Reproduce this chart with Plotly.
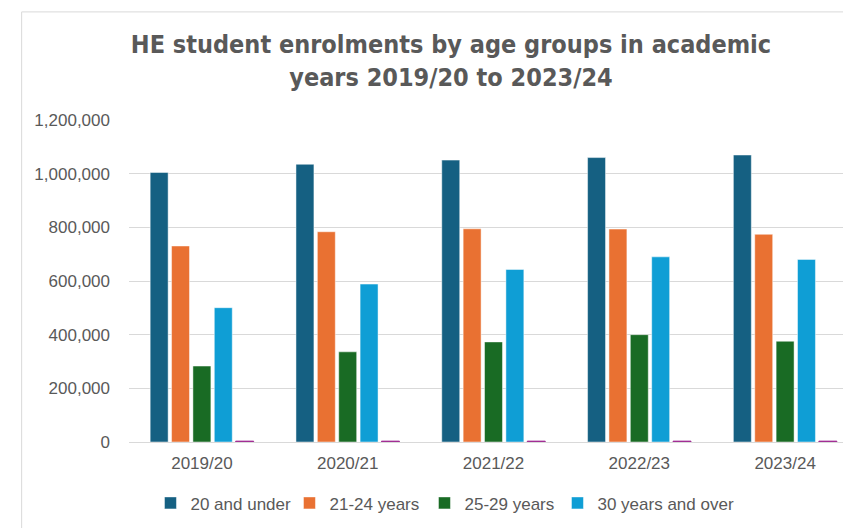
import plotly.graph_objects as go

years = ["2019/20", "2020/21", "2021/22", "2022/23", "2023/24"]
under_20 = [1004500, 1035000, 1050500, 1060000, 1069500]
age_21_24 = [730500, 783500, 794500, 793500, 774000]
age_25_29 = [283000, 336000, 373000, 400000, 375500]
over_30 = [500500, 588500, 643000, 690000, 680500]
unknown = [3500, 3500, 3500, 3500, 3500]

series = [
    ("20 and under", under_20, "#156082", True, 94),
    ("21-24 years", age_21_24, "#E97132", True, 90),
    ("25-29 years", age_25_29, "#196B24", True, 88),
    ("30 years and over", over_30, "#0F9ED5", True, 160),
    ("Age unknown", unknown, "#A02B93", False, None),
]

fig = go.Figure()
for name, vals, color, show, lw in series:
    kw = {}
    if lw:
        kw["legendwidth"] = lw
    outline = "rgba(255,255,255,0.6)" if show else color
    fig.add_trace(go.Bar(
        x=years, y=vals, name=name, showlegend=show,
        marker=dict(color=color, line=dict(color=outline, width=0.8)),
        **kw,
    ))

OFF = 8  # page body margin
W, H = 851, 528
L = 128.5 - OFF
R_EDGE = 858.5 - OFF
T = 120 - OFF
B_EDGE = 441.7 - OFF
plot_w = R_EDGE - L
plot_h = B_EDGE - T

def px_x(x):
    return (x - OFF - L) / plot_w

def px_y(y):
    return (B_EDGE - (y - OFF)) / plot_h

fig.update_layout(
    width=W, height=H,
    margin=dict(l=L, r=W - R_EDGE, t=T, b=H - B_EDGE, pad=0),
    paper_bgcolor="white", plot_bgcolor="white",
    barmode="group", bargap=0.267, bargroupgap=0.16,
    font=dict(family="Liberation Sans, Arial, sans-serif", size=17, color="#595959"),
    title=dict(
        text="HE student enrolments by age groups in academic<br>years 2019/20 to 2023/24",
        font=dict(family="Liberation Sans Narrow, DejaVu Sans Condensed, Roboto", size=25, color="#595959", weight="bold"),
        x=(451 - OFF) / W, xanchor="center", xref="container",
        y=1 - (28 + 25 - OFF) / H, yanchor="top", yref="container",
    ),
    xaxis=dict(
        range=[-0.5, 4.5],
        showline=True, linecolor="#d9d9d9", linewidth=1,
        ticks="", showgrid=False, ticklabelstandoff=6,
        tickfont=dict(size=17, color="#595959"),
    ),
    yaxis=dict(
        range=[0, 1200000], dtick=200000, tickformat=",d",
        showgrid=True, gridcolor="#d9d9d9", gridwidth=1,
        zeroline=False, ticks="", ticklabelstandoff=18,
        tickfont=dict(size=17, color="#595959"),
    ),
    legend=dict(
        orientation="h", x=px_x(150), xanchor="left",
        y=px_y(503), yanchor="middle",
        font=dict(size=17, color="#595959"),
        itemwidth=30, traceorder="normal",
        bgcolor="rgba(0,0,0,0)",
    ),
    shapes=[dict(
        type="rect", xref="paper", yref="paper",
        x0=px_x(21), x1=px_x(W + 30), y0=px_y(H + 30), y1=px_y(12),
        line=dict(color="#d9d9d9", width=1), fillcolor="rgba(0,0,0,0)", layer="below",
    )],
)

fig.write_html("out.html")
